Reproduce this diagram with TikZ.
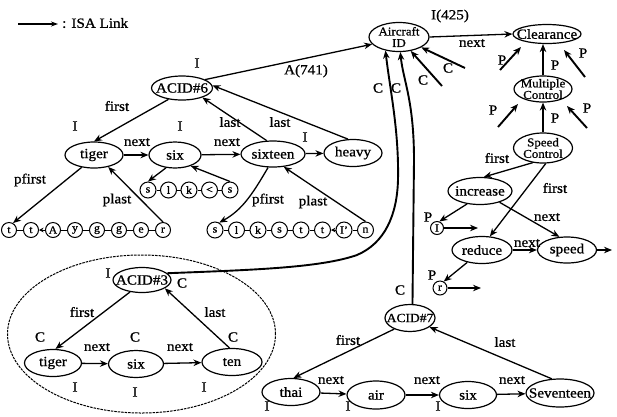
\documentclass[tikz,border=0pt]{standalone}
\usepackage{fontspec}
\setmainfont{Liberation Serif}[FakeStretch=1.08, FakeBold=0.9]
\usetikzlibrary{shapes.geometric,arrows.meta}
\tikzset{
  E/.style 2 args={draw, ellipse, minimum width=#1pt, minimum height=#2pt, inner sep=0pt, line width=1.2pt},
  txt/.style={inner sep=0pt, font=\fontsize{14}{14}\selectfont},
  txttwo/.style={inner sep=0pt, align=center, font=\fontsize{12}{11.5}\selectfont},
  lbl/.style={inner sep=0pt, font=\fontsize{14}{14}\selectfont},
  ch/.style={draw, circle, inner sep=0pt, minimum size=#1pt, line width=1pt, font=\fontsize{11}{11}\selectfont},
  arr/.style={-{Stealth[length=8pt,width=6.5pt]}, line width=1.3pt},
  sarr/.style={-{Stealth[length=4.5pt,width=4.5pt]}, line width=0.9pt},
  thick arr/.style={arr, line width=1.9pt},
}
\begin{document}
\begin{tikzpicture}[x=1pt,y=-1pt]
\useasboundingbox (0,0) rectangle (617,416);

% legend
\coordinate (lg1) at (18,24);
\coordinate (lg2) at (58,24);
\draw[-{Stealth[length=7pt,width=5pt]}, line width=1.1pt] (lg1) -- (lg2);
\node[lbl, anchor=west] (lgt) at (62,23) {: ISA Link};

% top nodes
\node[E={61}{24}, label={[txt]center:ACID\#6}] (acid6) at (182,88) {};
\node[E={60}{29}, label={[txttwo]center:Aircraft\\ID}] (aircraft) at (399,37) {};
\node[E={68}{19}, label={[txt]center:Clearance}] (clear) at (547,34) {};
\node[E={58}{26}, label={[txttwo]center:Multiple\\Control}] (multi) at (543,89) {};
\node[E={59}{30}, label={[txttwo]center:Speed\\Control}] (speedc) at (543,148) {};
\node[E={64}{27}, label={[txt]center:increase}] (incr) at (480,191) {};
\node[E={60}{27}, label={[txt]center:reduce}] (red) at (482,250) {};
\node[E={59}{26}, label={[txt]center:speed}] (spd) at (567,250) {};
\node[ch=13] (cI) at (437,228) {I};
\node[ch=14] (cR) at (440,288) {r};

% ACID#6 group
\node[E={58}{26}, label={[txt]center:tiger}] (tigerA) at (94,155) {};
\node[E={52}{26}, label={[txt]center:six}] (sixA) at (175,155) {};
\node[E={64}{26}, label={[txt]center:sixteen}] (sixteen) at (273,154) {};
\node[E={58}{27}, label={[txt]center:heavy}] (heavy) at (353,153) {};

% character rows
\foreach \n/\x/\l in {1/9/t,2/31/t,3/53/A,4/75/y,5/97/g,6/119/g,7/141/e,8/163/r}
  \node[ch=15] (t\n) at (\x,230) {\l};
\foreach \n/\x/\l in {1/148/s,2/168.5/l,3/189/k,4/209.5/<,5/230/s}
  \node[ch=16] (s\n) at (\x,190) {\l};
\foreach \n/\x/\l in {1/215/s,2/236.5/l,3/258/k,4/279.5/s,5/301/t,6/322.5/t,7/344/I',8/365.5/n}
  \node[ch=16] (q\n) at (\x,230) {\l};

\foreach \a/\b in {1/2,3/4,4/5,5/6,6/7,7/8} \draw[line width=0.9pt] (t\a) -- (t\b);
\draw[sarr] (t3) -- (t2);
\foreach \a/\b in {1/2,2/3,3/4,4/5} \draw[line width=0.9pt] (s\a) -- (s\b);
\foreach \a/\b in {1/2,2/3,3/4,4/5,5/6,7/8} \draw[line width=0.9pt] (q\a) -- (q\b);
\draw[sarr] (q7) -- (q6);

% ACID#3 group
\draw[dashed, dash pattern=on 2.5pt off 1pt, line width=1pt] (141.5,334) ellipse [x radius=134pt, y radius=79pt];
\node[E={58}{25}, label={[txt]center:ACID\#3}] (acid3) at (142,280) {};
\node[E={57}{27}, label={[txt]center:tiger}] (tigerB) at (53,363) {};
\node[E={55}{27}, label={[txt]center:six}] (sixB) at (136,364) {};
\node[E={60}{27}, label={[txt]center:ten}] (tenB) at (232,362) {};

% ACID#7 group
\node[E={50}{27}, label={[txt, font=\fontsize{12.5}{12.5}\selectfont]center:ACID\#7}] (acid7) at (410,318) {};
\node[E={58}{27}, label={[txt]center:thai}] (thai) at (291,392) {};
\node[E={58}{28}, label={[txt]center:air}] (air) at (376,395) {};
\node[E={57}{27}, label={[txt]center:six}] (sixC) at (468,395) {};
\node[E={68}{28}, label={[txt]center:Seventeen}] (sev) at (560,393) {};

% ---- connectors: ACID#6 group
\draw[arr] (acid6.20) -- (aircraft.195);
\draw[arr] (acid6.220) -- (tigerA.north);
\draw[arr] (sixteen.115) -- (acid6.-25);
\draw[arr] (heavy.110) -- (acid6.5);
\draw[arr] (tigerA) -- (sixA);
\draw[arr] (sixA) -- (sixteen);
\draw[arr] (sixteen) -- (heavy);
\draw[arr] (tigerA.225) -- (t1.60);
\draw[arr] (t8.north) -- (tigerA.-40);
\draw[arr] (sixA.235) -- (s1.north);
\draw[arr] (s5.north) -- (sixA.-35);
\draw[arr] (sixteen.250) .. controls (252,195) and (242,210) .. (q1.60);
\draw[arr] (q8.north) -- (sixteen.-50);

% ---- ACID#3 group
\draw[arr] (acid3.225) -- (tigerB.80);
\draw[arr] (tenB.100) -- (acid3.-20);
\draw[arr] (tigerB) -- (sixB);
\draw[arr] (sixB) -- (tenB);
\draw[thick arr] (acid3.15) .. controls (250,270) and (320,268) .. (357,255)
   .. controls (385,243) and (397,215) .. (398,180)
   .. controls (399,130) and (390,90) .. (aircraft.225);

% ---- ACID#7 group
\draw[thick arr] (acid7.80) -- (414,160) .. controls (414,100) and (403,80) .. (aircraft.275);
\draw[arr] (acid7.215) -- (thai.80);
\draw[arr] (sev.120) -- (acid7.-25);
\draw[arr] (thai) -- (air);
\draw[arr] (air) -- (sixC);
\draw[arr] (sixC) -- (sev);

% ---- Aircraft ID / Clearance
\coordinate (c1s) at (442,86);
\coordinate (c2s) at (465,68);
\draw[thick arr] (c1s) -- (aircraft.-50);
\draw[thick arr] (c2s) -- (aircraft.-25);
\draw[arr] (aircraft.east) -- (clear.west);

\coordinate (p1s) at (500,70); \coordinate (p1e) at (521,47);
\coordinate (p2s) at (585,77); \coordinate (p2e) at (564,50);
\coordinate (p3s) at (498,127); \coordinate (p3e) at (518,104);
\coordinate (p4s) at (587,128); \coordinate (p4e) at (567,106);
\draw[thick arr] (p1s) -- (p1e);
\draw[thick arr] (p2s) -- (p2e);
\draw[thick arr] (p3s) -- (p3e);
\draw[thick arr] (p4s) -- (p4e);
\draw[thick arr] (multi.north) -- (multi.north |- clear.south);
\draw[thick arr] (speedc.north) -- (speedc.north |- multi.south);

% ---- Speed Control group
\draw[arr] (speedc.235) -- (incr.75);
\draw[arr] (speedc.-80) -- (red.60);
\draw[arr] (incr.-30) -- (spd.120);
\draw[arr] (red) -- (spd);
\coordinate (spdout) at (612,250);
\draw[arr] (spd.east) -- (spdout);
\draw[arr] (incr.225) -- (cI.70);
\coordinate (cIout) at (478,228);
\draw[arr] (cI.east) -- (cIout);
\draw[arr] (red.220) -- (cR.60);
\coordinate (cRout) at (481,288);
\draw[arr] (cR.east) -- (cRout);

% ---- labels
\node[lbl] (l1) at (197,63) {I};
\node[lbl] (l2) at (306,71) {A(741)};
\node[lbl] (l3) at (450,16) {I(425)};
\node[lbl] (l4) at (117,106) {first};
\node[lbl] (l5) at (230,122) {last};
\node[lbl] (l6) at (280,122) {last};
\node[lbl] (l7) at (75,126) {I};
\node[lbl] (l8) at (180,126) {I};
\node[lbl] (l9) at (305,137) {I};
\node[lbl] (l10) at (137,142) {next};
\node[lbl] (l11) at (227,142) {next};
\node[lbl] (l12) at (30,180) {pfirst};
\node[lbl] (l13) at (117,200) {plast};
\node[lbl] (l14) at (268,200) {pfirst};
\node[lbl] (l15) at (313,202) {plast};
\node[lbl] (l16) at (378,88) {C};
\node[lbl] (l17) at (396,88) {C};
\node[lbl] (l18) at (423,80) {C};
\node[lbl] (l19) at (448,68) {C};
\node[lbl] (l20) at (472,43) {next};
\node[lbl] (l21) at (502,60) {P};
\node[lbl] (l22) at (555,65) {P};
\node[lbl] (l23) at (583,53) {P};
\node[lbl] (l24) at (493,110) {P};
\node[lbl] (l25) at (555,118) {P};
\node[lbl] (l26) at (587,108) {P};
\node[lbl] (l27) at (497,158) {first};
\node[lbl] (l28) at (555,188) {first};
\node[lbl] (l29) at (547,217) {next};
\node[lbl] (l30) at (527,243) {next};
\node[lbl] (l31) at (428,217) {P};
\node[lbl] (l32) at (432,275) {P};
\node[lbl] (l33) at (108,273) {I};
\node[lbl] (l34) at (182,283) {C};
\node[lbl] (l35) at (82,312) {first};
\node[lbl] (l36) at (215,312) {last};
\node[lbl] (l37) at (40,337) {C};
\node[lbl] (l38) at (135,337) {C};
\node[lbl] (l39) at (233,337) {C};
\node[lbl] (l40) at (97,347) {next};
\node[lbl] (l41) at (180,347) {next};
\node[lbl] (l42) at (75,387) {I};
\node[lbl] (l43) at (135,392) {I};
\node[lbl] (l44) at (204,387) {I};
\node[lbl] (l45) at (400,290) {C};
\node[lbl] (l46) at (348,340) {first};
\node[lbl] (l47) at (505,342) {last};
\node[lbl] (l48) at (331,380) {next};
\node[lbl] (l49) at (427,380) {next};
\node[lbl] (l50) at (512,380) {next};
\node[lbl] (l51) at (267,406) {I};
\node[lbl] (l52) at (348,406) {I};
\node[lbl] (l53) at (438,406) {I};
\end{tikzpicture}
\end{document}
